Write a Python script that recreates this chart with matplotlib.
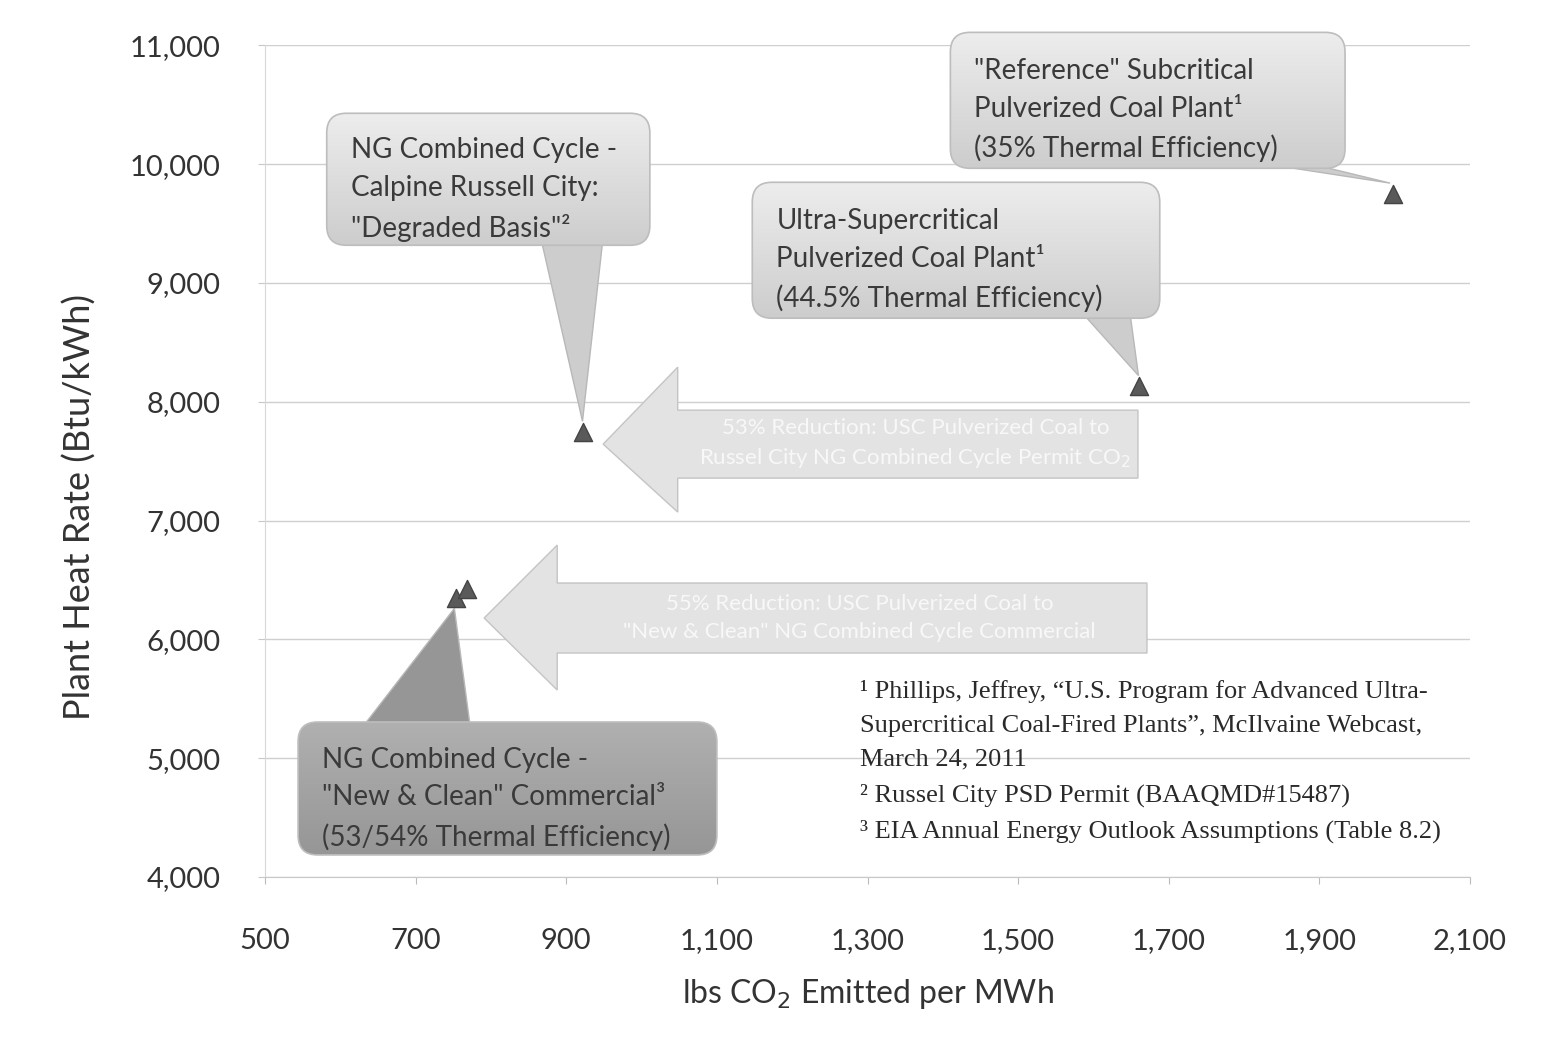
import numpy as np
import matplotlib.pyplot as plt
from matplotlib.patches import FancyBboxPatch, Polygon
from matplotlib.colors import LinearSegmentedColormap

plt.rcParams['font.family'] = ['Lato', 'DejaVu Sans']

# plant data: lbs CO2 per MWh vs heat rate (Btu/kWh)
plant_names = ['Reference Subcritical PC', 'Ultra-Supercritical PC',
               'NG CC Russell City', 'NG CC New & Clean (53%)', 'NG CC New & Clean (54%)']
co2_lbs = [1998, 1661, 922, 753, 768]
heat_rate = [9750, 8130, 7745, 6350, 6425]

x_ticks = [500, 700, 900, 1100, 1300, 1500, 1700, 1900, 2100]
y_ticks = [4000, 5000, 6000, 7000, 8000, 9000, 10000, 11000]

# callouts: text, box (x0, x1, y0, y1), wedge base (xa, xb, y), index of point, dark?
callouts = [
    ('"Reference" Subcritical\nPulverized Coal Plant\u00b9\n(35% Thermal Efficiency)',
     (1410, 1934, 9965, 11109), (1830, 1890, 10000), 0, False),
    ('Ultra-Supercritical\nPulverized Coal Plant\u00b9\n(44.5% Thermal Efficiency)',
     (1147, 1688, 8703, 9847), (1589, 1649, 8720), 1, False),
    ('NG Combined Cycle -\nCalpine Russell City:\n"Degraded Basis"\u00b2',
     (582, 1011, 9317, 10428), (868, 948, 9330), 2, False),
    ('NG Combined Cycle -\n"New & Clean" Commercial\u00b3\n(53/54% Thermal Efficiency)',
     (544, 1100, 4185, 5304), (633, 772, 5290), 3, True),
]

# block arrows: tail x, head-base x, tip x, body y (lo, hi), head y (lo, hi), text
arrows = [
    (1659, 1048, 949, (7357, 7929), (7071, 8291),
     '53% Reduction: USC Pulverized Coal to\nRussel City NG Combined Cycle Permit CO$_2$'),
    (1671, 888, 791, (5885, 6474), (5573, 6793),
     '55% Reduction: USC Pulverized Coal to\n"New & Clean" NG Combined Cycle Commercial'),
]

footnotes = ("\u00b9 Phillips, Jeffrey, \u201cU.S. Program for Advanced Ultra-\n"
             "Supercritical Coal-Fired Plants\u201d, McIlvaine Webcast,\n"
             "March 24, 2011\n"
             "\u00b2 Russel City PSD Permit (BAAQMD#15487)\n"
             "\u00b3 EIA Annual Energy Outlook Assumptions (Table 8.2)")

fig = plt.figure(figsize=(15.54, 10.54), dpi=100)
ax = fig.add_axes([0.1705, 0.168, 0.7755, 0.789])
ax.set_xlim(500, 2100)
ax.set_ylim(4000, 11000)
ax.set_xticks(x_ticks)
ax.set_yticks(y_ticks)
ax.set_xticklabels([f'{v:,}' for v in x_ticks])
ax.set_yticklabels([f'{v:,}' for v in y_ticks])
ax.tick_params(axis='y', length=5, color='#c8c8c8', pad=27, labelsize=21, labelcolor='#333333')
ax.tick_params(axis='x', length=5, color='#bbbbbb', pad=32, labelsize=21, labelcolor='#333333')
for s in ['top', 'right']:
    ax.spines[s].set_visible(False)
ax.spines['bottom'].set_color('#c8c8c8')
ax.spines['left'].set_color('#d8d8d8')
ax.grid(axis='y', color='#cfcfcf', linewidth=1)
ax.set_axisbelow(True)

ax.set_xlabel('lbs CO$_2$ Emitted per MWh', fontsize=23, color='#333333', labelpad=16)
ax.set_ylabel('Plant Heat Rate (Btu/kWh)', fontsize=26, color='#333333')
ax.yaxis.set_label_coords(-0.14, 0.445)

# block arrows
for tail, hb, tip, (blo, bhi), (hlo, hhi), txt in arrows:
    ymid = (blo + bhi) / 2
    pts = [(tail, blo), (tail, bhi), (hb, bhi), (hb, hhi), (tip, ymid),
           (hb, hlo), (hb, blo)]
    ax.add_patch(Polygon(pts, closed=True, facecolor='#e3e3e3', edgecolor='#c4c4c4',
                         linewidth=1, zorder=2))
    ax.text((tail + hb) / 2 + 10, ymid, txt, ha='center', va='center', fontsize=16,
            color='#f8f8f8', linespacing=1.45, zorder=3)

# callout bubbles
asp = (7000 / 832.0) / (1600 / 1205.0)
for txt, (x0, x1, y0, y1), (xa, xb, yb), idx, dark in callouts:
    top_c = '#b0b0b0' if dark else '#ededed'
    bot_c = '#969696' if dark else '#cdcdcd'
    px, py = co2_lbs[idx], heat_rate[idx]
    # pointer tip just short of marker
    dy = 90 if yb > py else -90
    tipx = px - (px - (xa + xb) / 2) * 0.03
    wedge = Polygon([(xa, yb), (xb, yb), (tipx, py + dy)], closed=True,
                    facecolor=bot_c, edgecolor='#b8b8b8', linewidth=1,
                    zorder=4, clip_on=False)
    ax.add_patch(wedge)
    box = FancyBboxPatch((x0, y0), x1 - x0, y1 - y0,
                         boxstyle='round,pad=0,rounding_size=26',
                         mutation_aspect=asp, facecolor='none', edgecolor='#bdbdbd',
                         linewidth=1.2, zorder=5, clip_on=False)
    ax.add_patch(box)
    grad = np.linspace(0, 1, 100).reshape(-1, 1)
    cmap = LinearSegmentedColormap.from_list('g', [bot_c, top_c])
    im = ax.imshow(grad, extent=(x0, x1, y0, y1), origin='lower', cmap=cmap,
                   aspect='auto', zorder=4.9)
    im.set_clip_path(box)
    im.set_clip_box(fig.bbox)
    ax.text(x0 + 32, (y0 + y1) / 2 - 85, txt, ha='left', va='center',
            fontsize=20, color='#3a3a3a', linespacing=1.56, zorder=6, clip_on=False)

ax.set_xlim(500, 2100)
ax.set_ylim(4000, 11000)

ax.scatter(co2_lbs, heat_rate, marker='^', s=170, color='#5a5a5a',
           edgecolor='#444444', zorder=7)

ax.text(860 / 1554, 1 - 680 / 1054, footnotes, transform=fig.transFigure,
        ha='left', va='top', fontsize=19, family='Liberation Serif',
        color='#2a2a2a', linespacing=1.7)

fig.savefig('out.png', dpi=100)
